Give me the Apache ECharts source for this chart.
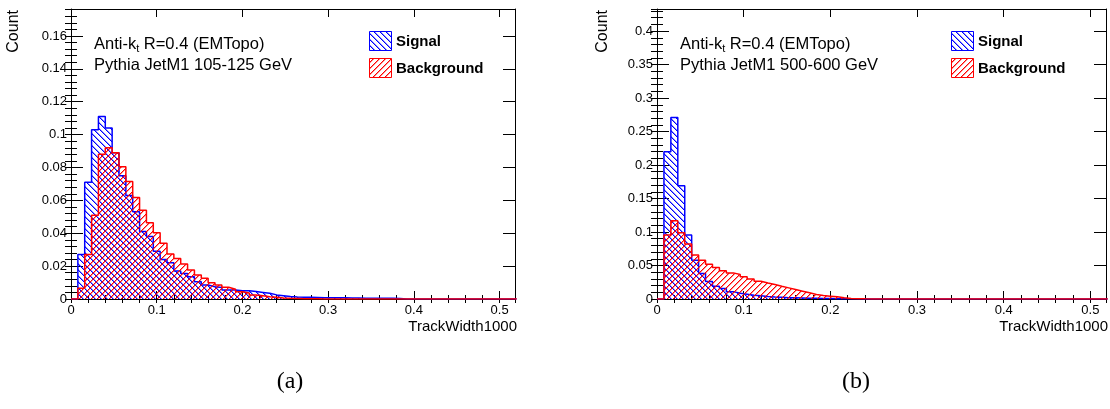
<!DOCTYPE html>
<html><head><meta charset="utf-8">
<script src="https://cdn.jsdelivr.net/npm/echarts@6/dist/echarts.min.js"></script>
<style>html,body{margin:0;padding:0;background:#fff}#c{width:1110px;height:409px}</style>
</head><body><div id="c"></div>
<script>
// ---- data ----
const binWidth = 0.008;           // histogram bin width in TrackWidth1000
const xMax = 0.518;
const yMaxA = 0.1764, yMaxB = 0.433;
const panelCaptions = ['(a)', '(b)'];
const sampleLines = ['Pythia JetM1 105-125 GeV', 'Pythia JetM1 500-600 GeV'];
const legendNames = ['Signal', 'Background'];
const axisTitleX = 'TrackWidth1000';
const axisTitleY = 'Count';

const signalA = [0, 0.027, 0.071, 0.103, 0.111, 0.104, 0.089, 0.075, 0.063, 0.053,
  0.041, 0.038, 0.029, 0.024, 0.022, 0.017, 0.0155, 0.0135, 0.0105, 0.0085,
  0.0075, 0.007, 0.0055, 0.0055, 0.005, 0.005, 0.0045, 0.004, 0.0035, 0.0025,
  0.002, 0.0015, 0.0012, 0.001, 0.001, 0.0009, 0.0008, 0.0008, 0.0007, 0.0007,
  0.0006, 0.0006, 0.0005, 0.0005, 0.0005, 0.0004, 0.0004, 0.0003, 0, 0,
  0, 0, 0, 0, 0, 0, 0, 0, 0, 0, 0, 0, 0, 0, 0];
const backgroundA = [0, 0.0065, 0.027, 0.051, 0.088, 0.092, 0.089, 0.0805, 0.0714, 0.0618,
  0.054, 0.0464, 0.0403, 0.0339, 0.0274, 0.0247, 0.0213, 0.0176, 0.0146, 0.0126,
  0.0099, 0.0085, 0.0071, 0.0059, 0.0044, 0.0037, 0.0024, 0.002, 0.0014, 0.001,
  0.0006, 0.0004, 0.0003, 0.0002, 0.0002, 0.0001, 0, 0, 0, 0,
  0, 0, 0, 0, 0, 0, 0, 0, 0, 0, 0, 0, 0, 0, 0, 0, 0, 0, 0, 0, 0, 0, 0, 0, 0];
const signalB = [0, 0.22, 0.271, 0.169, 0.0955, 0.058, 0.038, 0.026, 0.019, 0.0155,
  0.011, 0.0087, 0.0072, 0.0057, 0.0047, 0.0037, 0.003, 0.0025, 0.002, 0.0018,
  0.0015, 0.0012, 0.001, 0.0008, 0.0006, 0.0004, 0.0003, 0.0002, 0.0002, 0.0001,
  0, 0, 0, 0, 0, 0, 0, 0, 0, 0, 0, 0, 0, 0, 0, 0, 0, 0, 0, 0,
  0, 0, 0, 0, 0, 0, 0, 0, 0, 0, 0, 0, 0, 0, 0];
const backgroundB = [0, 0.0955, 0.117, 0.099, 0.082, 0.0657, 0.058, 0.052, 0.047, 0.042,
  0.039, 0.0366, 0.0333, 0.030, 0.0266, 0.024, 0.0216, 0.019, 0.0166, 0.0142,
  0.0117, 0.0092, 0.0067, 0.0052, 0.0042, 0.0032, 0.0017, 0.0008, 0.0005, 0.0002,
  0, 0, 0, 0, 0, 0, 0, 0, 0, 0, 0, 0, 0, 0, 0, 0, 0, 0, 0, 0,
  0, 0, 0, 0, 0, 0, 0, 0, 0, 0, 0, 0, 0, 0, 0];

// ---- helpers ----
const SANS = '"Liberation Sans", Arial, Helvetica, sans-serif';
const BLUE = '#0000ff', RED = '#ff0000';

function hatch(rgb, back) {
  const s = 6, c = document.createElement('canvas');
  c.width = s; c.height = s;
  const g = c.getContext('2d');
  for (let i = 0; i < s; i++) {
    const y = back ? i : s - 1 - i;
    g.fillStyle = 'rgb(' + rgb + ')';
    g.fillRect(i, y, 1, 1);
    g.fillStyle = 'rgba(' + rgb + ',0.45)';
    g.fillRect((i + 1) % s, y, 1, 1);
  }
  return c;
}
const patSignal = { image: hatch('0,0,255', true), repeat: 'repeat' };
const patBack = { image: hatch('255,0,0', false), repeat: 'repeat' };

function stepData(vals) {
  const d = [];
  for (let k = 0; k < vals.length; k++) d.push([k * binWidth, vals[k]]);
  d.push([vals.length * binWidth, 0]);
  return d;
}

const grids = [
  { left: 71, top: 9, width: 444, height: 290 },
  { left: 657, top: 9, width: 449, height: 290 }
];
const yMax = [yMaxA, yMaxB];
const yMajor = [0.02, 0.05];
const yMinor = [0.004, 0.01];

const xAxes = [], yAxes = [];
grids.forEach((g, gi) => {
  const base = { gridIndex: gi, type: 'value', min: 0, max: xMax, splitLine: { show: false } };
  xAxes.push(Object.assign({}, base, { position: 'bottom', interval: 0.1,
    axisLine: { show: true, onZero: false, lineStyle: { color: '#000', width: 1 } },
    axisTick: { inside: true, length: 8, lineStyle: { color: '#000' } },
    axisLabel: { show: true, fontSize: 13, color: '#000', margin: 5, fontFamily: SANS, showMaxLabel: false } }));
  xAxes.push(Object.assign({}, base, { position: 'bottom', interval: 0.02,
    axisLine: { show: false }, axisTick: { inside: true, length: 4, lineStyle: { color: '#000' } },
    axisLabel: { show: false } }));
  xAxes.push(Object.assign({}, base, { position: 'top', interval: 0.1,
    axisLine: { show: true, onZero: false, lineStyle: { color: '#000', width: 1 } },
    axisTick: { inside: true, length: 8, lineStyle: { color: '#000' } }, axisLabel: { show: false } }));
  xAxes.push(Object.assign({}, base, { position: 'top', interval: 0.02,
    axisLine: { show: false }, axisTick: { inside: true, length: 4, lineStyle: { color: '#000' } },
    axisLabel: { show: false } }));

  const yb = { gridIndex: gi, type: 'value', min: 0, max: yMax[gi], splitLine: { show: false } };
  yAxes.push(Object.assign({}, yb, { position: 'left', interval: yMajor[gi],
    axisLine: { show: true, onZero: false, lineStyle: { color: '#000', width: 1 } },
    axisTick: { inside: true, length: 12, lineStyle: { color: '#000' } },
    axisLabel: { show: true, fontSize: 13, color: '#000', margin: 4, fontFamily: SANS, showMaxLabel: false } }));
  yAxes.push(Object.assign({}, yb, { position: 'left', interval: yMinor[gi],
    axisLine: { show: false }, axisTick: { inside: true, length: 6, lineStyle: { color: '#000' } },
    axisLabel: { show: false } }));
  yAxes.push(Object.assign({}, yb, { position: 'right', interval: yMajor[gi],
    axisLine: { show: true, onZero: false, lineStyle: { color: '#000', width: 1 } },
    axisTick: { inside: true, length: 12, lineStyle: { color: '#000' } }, axisLabel: { show: false } }));
  yAxes.push(Object.assign({}, yb, { position: 'right', interval: yMinor[gi],
    axisLine: { show: false }, axisTick: { inside: true, length: 6, lineStyle: { color: '#000' } },
    axisLabel: { show: false } }));
});

function histSeries(vals, gi, color, pat, z) {
  return {
    type: 'line', step: 'end', symbol: 'none', animation: false, silent: true,
    xAxisIndex: gi * 4, yAxisIndex: gi * 4, z: z,
    data: stepData(vals),
    lineStyle: { color: color, width: 1.5 },
    areaStyle: { color: pat, opacity: 1 }
  };
}

// text measurement for subscript placement
const mctx = document.createElement('canvas').getContext('2d');
function tw(text, size, weight) {
  mctx.font = (weight || 'normal') + ' ' + size + 'px "Liberation Sans"';
  return mctx.measureText(text).width;
}

const graphics = [];
const FS = 16.5;
grids.forEach((g, gi) => {
  const tx = g.left + 23;
  const w1 = tw('Anti-k', FS);
  graphics.push({ type: 'text', x: tx, y: 44, style: { text: 'Anti-k', font: FS + 'px ' + SANS, fill: '#000', textVerticalAlign: 'middle' } });
  graphics.push({ type: 'text', x: tx + w1, y: 49, style: { text: 't', font: '11px ' + SANS, fill: '#000', textVerticalAlign: 'middle' } });
  graphics.push({ type: 'text', x: tx + w1 + tw('t', 11), y: 44, style: { text: ' R=0.4 (EMTopo)', font: FS + 'px ' + SANS, fill: '#000', textVerticalAlign: 'middle' } });
  graphics.push({ type: 'text', x: tx, y: 65, style: { text: sampleLines[gi], font: FS + 'px ' + SANS, fill: '#000', textVerticalAlign: 'middle' } });

  const lx = gi === 0 ? 369 : 951;
  graphics.push({ type: 'rect', shape: { x: lx + 0.5, y: 31.5, width: 22, height: 19 }, style: { fill: patSignal, stroke: BLUE, lineWidth: 1 } });
  graphics.push({ type: 'rect', shape: { x: lx + 0.5, y: 58.5, width: 22, height: 19 }, style: { fill: patBack, stroke: RED, lineWidth: 1 } });
  graphics.push({ type: 'text', x: lx + 27, y: 41.5, style: { text: legendNames[0], font: 'bold 15px ' + SANS, fill: '#000', textVerticalAlign: 'middle' } });
  graphics.push({ type: 'text', x: lx + 27, y: 68.5, style: { text: legendNames[1], font: 'bold 15px ' + SANS, fill: '#000', textVerticalAlign: 'middle' } });

  graphics.push({ type: 'text', x: g.left + g.width + 2, y: 327, style: { text: axisTitleX, font: '15px ' + SANS, fill: '#000', textAlign: 'right', textVerticalAlign: 'middle' } });
  graphics.push({ type: 'text', x: gi === 0 ? 14 : 603, y: 10, rotation: Math.PI / 2, style: { text: axisTitleY, font: '16px ' + SANS, fill: '#000', textAlign: 'right', textVerticalAlign: 'middle' } });
  graphics.push({ type: 'text', x: gi === 0 ? 290 : 856, y: 382, style: { text: panelCaptions[gi], font: '24px "Liberation Serif", "Times New Roman", serif', fill: '#000', textAlign: 'center', textVerticalAlign: 'middle' } });
});

const chart = echarts.init(document.getElementById('c'), null, { renderer: 'canvas' });
chart.setOption({
  animation: false,
  backgroundColor: '#fff',
  grid: grids,
  xAxis: xAxes,
  yAxis: yAxes,
  series: [
    histSeries(signalA, 0, BLUE, patSignal, 2),
    histSeries(backgroundA, 0, RED, patBack, 3),
    histSeries(signalB, 1, BLUE, patSignal, 2),
    histSeries(backgroundB, 1, RED, patBack, 3)
  ],
  graphic: graphics
});
</script></body></html>
